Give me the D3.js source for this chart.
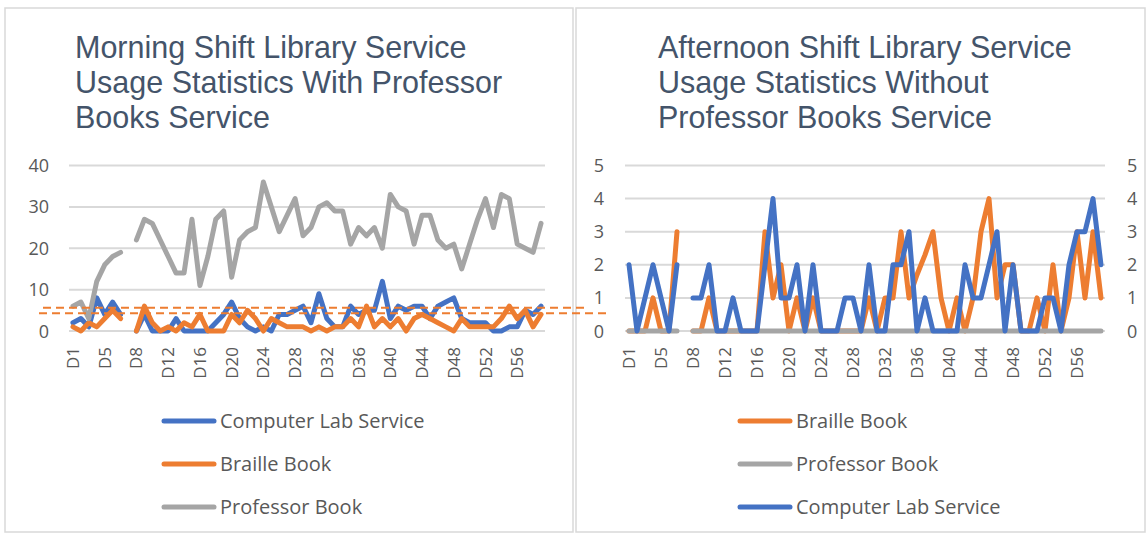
<!DOCTYPE html>
<html>
<head>
<meta charset="utf-8">
<script src="https://cdn.jsdelivr.net/npm/d3@7"></script>
<style>
  body { margin: 0; background: #fff; }
  text { font-family: "Open Sans", "Liberation Sans", sans-serif; }
</style>
</head>
<body>
<div id="chart"></div>
<script>
// categories (index 7 is an empty row in the sheet)
const categories = ["D1","D2","D3","D4","D5","D6","D7","",
  "D8","D9","D10","D11","D12","D13","D14","D15","D16","D17","D18","D19",
  "D20","D21","D22","D23","D24","D25","D26","D27","D28","D29","D30","D31",
  "D32","D33","D34","D35","D36","D37","D38","D39","D40","D41","D42","D43",
  "D44","D45","D46","D47","D48","D49","D50","D51","D52","D53","D54","D55",
  "D56","D57","D58","D59"];
const tickLabels = ["D1","D5","D8","D12","D16","D20","D24","D28","D32","D36","D40","D44","D48","D52","D56"];

// morning shift
const morningLab = [2,3,1,8,4,7,4,null,0,4,0,0,0,3,0,0,0,0,2,4,7,3,1,0,1,0,4,4,5,6,
  2,9,3,1,1,6,4,5,5,12,3,6,5,6,6,3,6,7,8,3,2,2,2,0,0,1,1,5,4,6];
const morningBraille = [1,0,2,1,3,5,3,null,0,6,2,0,1,0,2,1,4,0,0,0,4,2,5,3,0,3,2,1,1,1,
  0,1,0,1,1,3,1,6,1,3,1,3,0,3,4,3,2,1,0,3,1,1,1,1,3,6,3,5,1,4];
const morningProfessor = [6,7,3,12,16,18,19,null,22,27,26,22,18,14,14,27,11,18,27,29,13,22,24,25,36,30,24,28,32,23,
  25,30,31,29,29,21,25,23,25,20,33,30,29,21,28,28,22,20,21,15,21,27,32,25,33,32,21,20,19,26];
const morningMarks = [5.6, 4.3];   // dashed orange marker lines
const morningTicks = [0,10,20,30,40];

// afternoon shift
const afternoonBraille = [0,0,0,1,0,0,3,null,0,0,1,0,0,0,0,0,0,3,1,2,0,1,0,1,0,0,0,0,0,0,
  1,0,1,1,3,1,1.7,2.3,3,1,0,1,0,1,3,4,1,2,2,0,0,1,0,2,0,1,3,1,3,1];
const afternoonProfessor = [0,0,0,0,0,0,0,null,0,0,0,0,0,0,0,0,0,0,0,0,0,0,0,0,0,0,0,0,0,0,
  0,0,0,0,0,0,0,0,0,0,0,0,0,0,0,0,0,0,0,0,0,0,0,0,0,0,0,0,0,0];
const afternoonLab = [2,0,1,2,1,0,2,null,1,1,2,0,0,1,0,0,0,2,4,1,1,2,0,2,0,0,0,1,1,0,
  2,0,0,2,2,3,0,1,0,0,0,0,2,1,1,2,3,0,2,0,0,0,1,1,0,2,3,3,4,2];
const afternoonTicks = [0,1,2,3,4,5];

const colors = {lab: "#4472C4", braille: "#ED7D31", professor: "#A5A5A5"};

const svg = d3.select("#chart").append("svg")
  .attr("width", 1147).attr("height", 538);

// panel frames
svg.append("rect").attr("x", 5).attr("y", 8).attr("width", 568).attr("height", 524)
  .attr("fill", "none").attr("stroke", "#d9d9d9").attr("stroke-width", 1.5);
svg.append("rect").attr("x", 576).attr("y", 8).attr("width", 569).attr("height", 524)
  .attr("fill", "none").attr("stroke", "#d9d9d9").attr("stroke-width", 1.5);

function drawPanel(p) {
  const g = svg.append("g");
  const x = d3.scaleBand().domain(d3.range(categories.length)).range(p.xRange);
  const y = d3.scaleLinear().domain([0, p.yMax]).range([331, 165.5]);
  const cx = i => x(i) + x.bandwidth() / 2;

  // title
  g.append("text")
    .attr("x", p.titleX).attr("y", 58)
    .attr("fill", "#44546A")
    .style("font-family", "'Liberation Sans', Arial, sans-serif")
    .style("font-size", "30.5px")
    .selectAll("tspan").data(p.title).join("tspan")
      .attr("x", p.titleX).attr("dy", (d, i) => i ? 35 : 0)
      .text(d => d);

  // gridlines
  g.append("g").selectAll("line").data(p.ticks).join("line")
    .attr("x1", p.xRange[0]).attr("x2", p.xRange[1])
    .attr("y1", d => y(d)).attr("y2", d => y(d))
    .attr("stroke", "#d9d9d9").attr("stroke-width", 2);

  // y labels
  p.yLabelX.forEach(lx => {
    g.append("g").selectAll("text").data(p.ticks).join("text")
      .attr("x", lx.x).attr("y", d => y(d) + 6.5)
      .attr("text-anchor", lx.anchor)
      .attr("fill", "#595959").style("font-size", "18px")
      .text(d => d);
  });

  // x labels
  const shown = categories.map((c, i) => i).filter(i => tickLabels.includes(categories[i]));
  g.append("g").selectAll("text").data(shown).join("text")
    .attr("transform", i => `translate(${cx(i) + 6},347) rotate(-90)`)
    .attr("text-anchor", "end")
    .attr("fill", "#595959").style("font-size", "17px")
    .text(i => categories[i]);

  // series
  const line = d3.line()
    .defined(d => d != null)
    .x((d, i) => cx(i))
    .y(d => y(d));
  p.series.forEach(s => {
    g.append("path").datum(s.values)
      .attr("d", line)
      .attr("fill", "none").attr("stroke", s.color)
      .attr("stroke-width", 5)
      .attr("stroke-linejoin", "round").attr("stroke-linecap", "round");
  });

  // legend
  p.legend.forEach((s, i) => {
    const ly = 421 + i * 43;
    g.append("line")
      .attr("x1", p.legendX).attr("x2", p.legendX + 50)
      .attr("y1", ly).attr("y2", ly)
      .attr("stroke", s.color).attr("stroke-width", 5).attr("stroke-linecap", "round");
    g.append("text")
      .attr("x", p.legendX + 56).attr("y", ly + 7)
      .attr("fill", "#595959").style("font-size", "20px")
      .text(s.name);
  });
  return y;
}

const labS = {name: "Computer Lab Service", color: colors.lab};
const brailleS = {name: "Braille Book", color: colors.braille};
const profS = {name: "Professor Book", color: colors.professor};

const yLeft = drawPanel({
  title: ["Morning Shift Library Service", "Usage Statistics With Professor", "Books Service"],
  titleX: 75,
  xRange: [69, 545],
  yMax: 40,
  ticks: morningTicks,
  yLabelX: [{x: 49, anchor: "end"}],
  series: [
    Object.assign({values: morningLab}, labS),
    Object.assign({values: morningBraille}, brailleS),
    Object.assign({values: morningProfessor}, profS)
  ],
  legend: [labS, brailleS, profS],
  legendX: 164
});

drawPanel({
  title: ["Afternoon Shift Library Service", "Usage Statistics Without", "Professor Books Service"],
  titleX: 658,
  xRange: [625, 1105],
  yMax: 5,
  ticks: afternoonTicks,
  yLabelX: [{x: 604, anchor: "end"}, {x: 1127, anchor: "start"}],
  series: [
    Object.assign({values: afternoonBraille}, brailleS),
    Object.assign({values: afternoonProfessor}, profS),
    Object.assign({values: afternoonLab}, labS)
  ],
  legend: [brailleS, profS, labS],
  legendX: 740
});

// dashed marker lines drawn over the morning chart
svg.append("g").selectAll("line").data(morningMarks).join("line")
  .attr("x1", (d, i) => i ? 39 : 43)
  .attr("x2", (d, i) => i ? 606 : 586)
  .attr("y1", d => yLeft(d)).attr("y2", d => yLeft(d))
  .attr("stroke", colors.braille).attr("stroke-width", 2)
  .attr("stroke-dasharray", "8,5");
</script>
</body>
</html>
